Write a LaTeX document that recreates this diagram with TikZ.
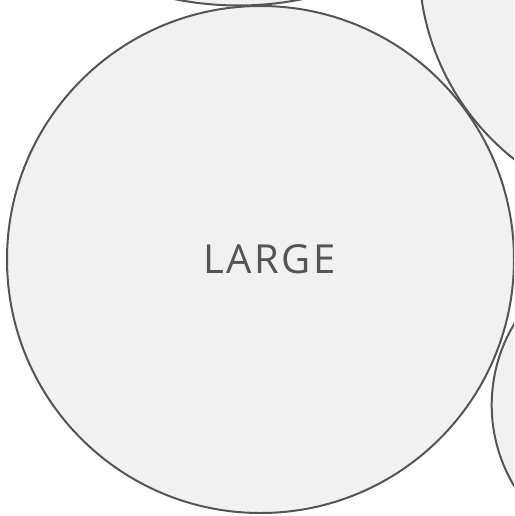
\documentclass[tikz,border=0pt]{standalone}
\usepackage{fontspec}
\setmainfont{Open Sans}
\definecolor{cfill}{HTML}{F1F1F1}
\definecolor{cline}{HTML}{555555}
\begin{document}
\begin{tikzpicture}[x=1pt,y=-1pt,
  bubble/.style={fill=cfill,draw=cline,line width=2pt},
  lbl/.style={text=cline,font=\fontsize{40}{40}\selectfont,inner sep=0pt}]
\useasboundingbox (0,0) rectangle (514,516);
\begin{scope}
\clip (0,0) rectangle (514,516);
\path[bubble] (238.5,-314.5) circle (320);
\path[bubble] (669,-37) circle (250);
\path[bubble] (648.7,405) circle (157);
\path[bubble] (260.5,259.5) circle (253.5);
\end{scope}
\node[lbl,anchor=base] (large) at (269.5,273.3) {\addfontfeature{LetterSpace=6}LARGE};
\end{tikzpicture}
\end{document}
